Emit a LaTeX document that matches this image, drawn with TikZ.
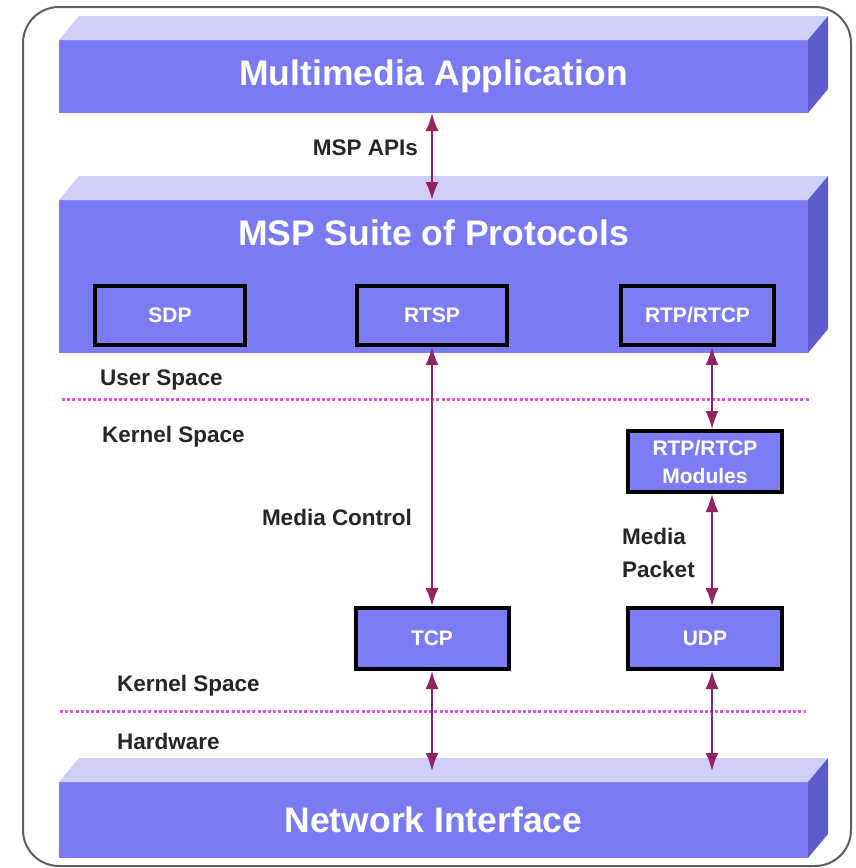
\documentclass[tikz,border=0pt]{standalone}
\usepackage{fontspec}
\setmainfont{Liberation Sans}
\usetikzlibrary{arrows.meta,calc}
\definecolor{frontc}{RGB}{122,122,242}
\definecolor{topc}{RGB}{206,206,246}
\definecolor{sidec}{RGB}{92,92,205}
\definecolor{boxc}{RGB}{124,124,244}
\definecolor{arrc}{RGB}{145,35,95}
\definecolor{dotc}{RGB}{228,80,228}
\definecolor{framec}{RGB}{95,95,95}
\begin{document}
\begin{tikzpicture}[x=1pt,y=-1pt,
  slabfront/.style={fill=frontc, draw=none, minimum width=749pt, minimum height=#1, inner sep=0pt, outer sep=0pt},
  bigtext/.style={text=white, font=\bfseries\fontsize{35.5}{40}\selectfont, inner sep=0pt},
  pbox/.style={draw=black, line width=4pt, fill=boxc, text=white, inner sep=0pt,
    font=\bfseries\fontsize{21}{28}\selectfont, align=center},
  lab/.style={text=black!85, font=\bfseries\fontsize{22.5}{33}\selectfont, inner sep=0pt},
  dbl/.style={draw=arrc, line width=2pt, {Latex[length=18pt,width=13pt]}-{Latex[length=18pt,width=13pt]}},
  sep/.style={draw=dotc, line width=3pt, dash pattern=on 3pt off 2.2pt}
]
\useasboundingbox (0,0) rectangle (855,868);
\fill[white] (0,0) rectangle (855,868);
\draw[framec, line width=2pt, rounded corners=36pt] (23,7) rectangle (851,866);

% slabs
\node[slabfront=73pt] (mm) at (433.5,76.5) {};
\node[slabfront=153pt] (msp) at (433.5,276.5) {};
\node[slabfront=76pt] (ni) at (433.5,820) {};
\foreach \s in {mm,msp,ni}{
  \fill[topc] (\s.north west) -- ++(20,-24) -- ($(\s.north east)+(20,-24)$) -- (\s.north east) -- cycle;
  \fill[sidec] (\s.north east) -- ++(20,-24) -- ($(\s.south east)+(20,-24)$) -- (\s.south east) -- cycle;
}
\node[bigtext] (mmt) at (mm.center) {Multimedia Application};
\node[bigtext] (mspt) at (433.5,233) {MSP Suite of Protocols};
\node[bigtext] (nit) at (ni.center) {Network Interface};

% protocol boxes
\node[pbox, minimum width=150pt, minimum height=59pt] (sdp) at (170,315.5) {SDP};
\node[pbox, minimum width=150pt, minimum height=59pt] (rtsp) at (432,315.5) {RTSP};
\node[pbox, minimum width=153pt, minimum height=59pt] (rtp) at (697.5,315.5) {RTP/RTCP};
\node[pbox, minimum width=154pt, minimum height=61pt] (mod) at (705,461.5) {RTP/RTCP\\Modules};
\node[pbox, minimum width=153pt, minimum height=61pt] (tcp) at (432,638.5) {TCP};
\node[pbox, minimum width=154pt, minimum height=61pt] (udp) at (705,638.5) {UDP};

\coordinate (col) at (712,0);
\coordinate (nitop) at (0,771);

% separators
\coordinate (s1a) at (62,399); \coordinate (s1b) at (810,399);
\coordinate (s2a) at (60,711); \coordinate (s2b) at (806,711);
\draw[sep] (s1a) -- (s1b);
\draw[sep] (s2a) -- (s2b);

% arrows
\draw[dbl] (mm.south -| rtsp) -- (msp.north -| rtsp);
\draw[dbl] (rtsp.south) -- (tcp.north);
\draw[dbl] (rtp.south -| col) -- (mod.north -| col);
\draw[dbl] (mod.south -| col) -- (udp.north -| col);
\draw[dbl] (tcp.south) -- (tcp.south |- nitop);
\draw[dbl] (udp.south -| col) -- (col |- nitop);

% labels
\node[lab, anchor=east] (apis) at (418,148) {MSP APIs};
\node[lab, anchor=west] (us) at (100,380) {User Space};
\node[lab, anchor=west] (ks1) at (102,437) {Kernel Space};
\node[lab, anchor=west] (ks2) at (117,686) {Kernel Space};
\node[lab, anchor=west] (hw) at (117,741) {Hardware};
\node[lab] (mc) at (337,517) {Media Control};
\node[lab, anchor=west, align=left] (mpk) at (622,553) {Media\\Packet};
\end{tikzpicture}
\end{document}
